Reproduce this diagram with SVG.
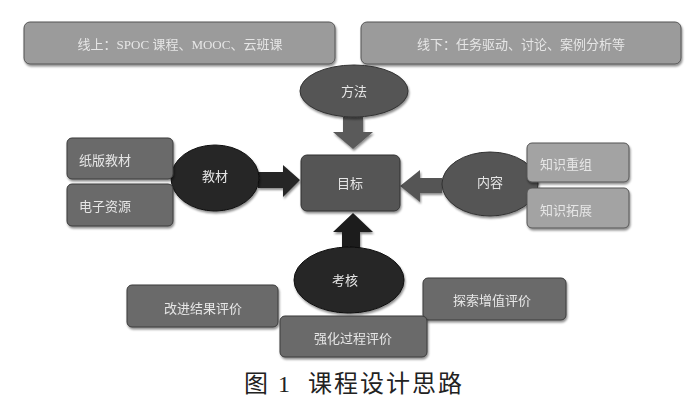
<svg xmlns="http://www.w3.org/2000/svg" width="700" height="406" viewBox="0 0 700 406">
<defs>
<filter id="sh" x="-10%" y="-10%" width="130%" height="140%">
<feDropShadow dx="1" dy="2" stdDeviation="1.2" flood-color="#000" flood-opacity="0.45"/>
</filter>
<style>
text{font-family:"Liberation Serif","Noto Sans CJK SC",serif;font-size:13px;fill:#e6e6e6;dominant-baseline:central}
.lt{fill:#9b9b9b;stroke:#555;stroke-width:1}
.md{fill:#6b6b6b;stroke:#3a3a3a;stroke-width:1}
.lb{fill:#a3a3a3;stroke:#555;stroke-width:1}
.dk{fill:#555;stroke:#333;stroke-width:1}
.bk{fill:#262626;stroke:#111;stroke-width:1}
.c{text-anchor:middle}
</style>
</defs>
<rect width="700" height="406" fill="#fff"/>
<g id="online" filter="url(#sh)"><rect class="lt" x="24" y="22" width="311" height="42" rx="6"/><text class="c" x="180" y="44">线上：SPOC 课程、MOOC、云班课</text></g>
<g id="offline" filter="url(#sh)"><rect class="lt" x="361" y="22" width="320" height="42" rx="6"/><text class="c" x="521" y="44">线下：任务驱动、讨论、案例分析等</text></g>
<g id="connectors">
<polygon points="343,117 363,117 363,132 373,132 353,149 333,132 343,132" fill="#5a5a5a" filter="url(#sh)"/>
<polygon points="258,172 283,172 283,165 300,180 283,197 283,188 258,188" fill="#262626" filter="url(#sh)"/>
<polygon points="442,178 420,178 420,170 400,186 420,202 420,193 442,193" fill="#555" filter="url(#sh)"/>
<polygon points="342,250 360,250 360,232 373,232 353,213 333,232 342,232" fill="#1e1e1e" filter="url(#sh)"/>
</g>
<g id="method" filter="url(#sh)"><ellipse class="dk" cx="354" cy="91" rx="54" ry="26"/><text class="c" x="354" y="91">方法</text></g>
<g id="goal" filter="url(#sh)"><rect class="dk" x="301" y="155" width="99" height="56" rx="6"/><text class="c" x="350" y="183">目标</text></g>
<g id="textbook" filter="url(#sh)"><ellipse class="bk" cx="215" cy="178" rx="44" ry="33"/><text class="c" x="215" y="176">教材</text></g>
<g id="paper" filter="url(#sh)"><rect class="md" x="67" y="138" width="106" height="41" rx="5"/><text x="79" y="160">纸版教材</text></g>
<g id="eres" filter="url(#sh)"><rect class="md" x="67" y="184" width="106" height="42" rx="5"/><text x="79" y="206">电子资源</text></g>
<g id="content" filter="url(#sh)"><ellipse class="dk" cx="490" cy="184" rx="48" ry="32"/><text class="c" x="490" y="182">内容</text></g>
<g id="regroup" filter="url(#sh)"><rect class="lb" x="527" y="143" width="102" height="39" rx="5"/><text x="540" y="164">知识重组</text></g>
<g id="extend" filter="url(#sh)"><rect class="lb" x="527" y="188" width="102" height="40" rx="5"/><text x="540" y="210">知识拓展</text></g>
<g id="assess" filter="url(#sh)"><ellipse class="bk" cx="349" cy="280" rx="55" ry="33"/><text class="c" x="345" y="280">考核</text></g>
<g id="result" filter="url(#sh)"><rect class="md" x="127" y="285" width="151" height="42" rx="5"/><text class="c" x="203" y="308">改进结果评价</text></g>
<g id="value" filter="url(#sh)"><rect class="md" x="423" y="278" width="143" height="42" rx="5"/><text class="c" x="492" y="300">探索增值评价</text></g>
<g id="process" filter="url(#sh)"><rect class="md" x="280" y="316" width="147" height="41" rx="5"/><text class="c" x="353" y="338">强化过程评价</text></g>
<text class="c" x="354" y="384" style="font-size:24px;fill:#222;letter-spacing:2px" xml:space="preserve">图 1  课程设计思路</text>
</svg>
